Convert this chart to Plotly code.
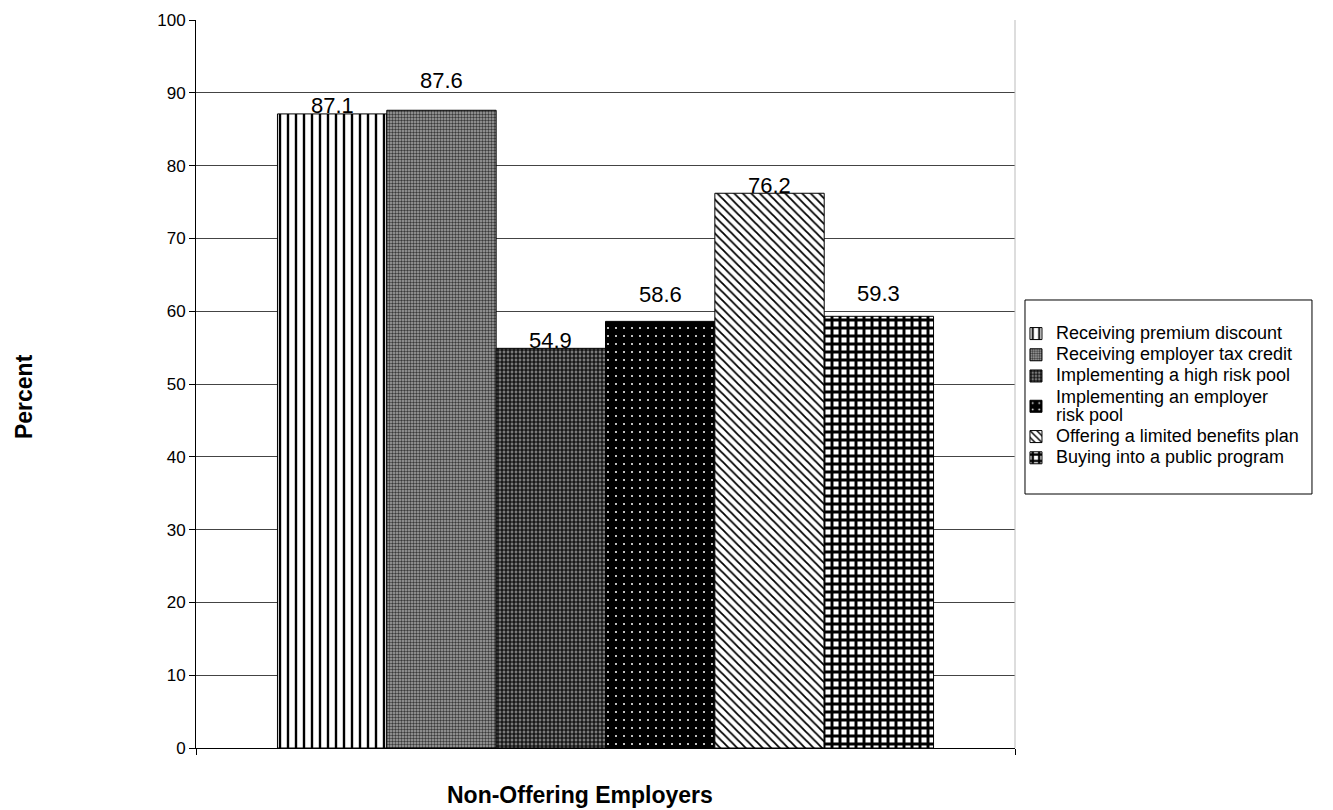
import plotly.graph_objects as go

category = "Non-Offering Employers"
series_names = [
    "Receiving premium discount",
    "Receiving employer tax credit",
    "Implementing a high risk pool",
    "Implementing an employer<br>risk pool",
    "Offering a limited benefits plan",
    "Buying into a public program",
]
values = [87.1, 87.6, 54.9, 58.6, 76.2, 59.3]
y_ticks = [0, 10, 20, 30, 40, 50, 60, 70, 80, 90, 100]

# style: label lift above bar top (px), as in the original chart
label_lift = [8, 30, 8, 27, 8, 23]

patterns = [
    dict(shape="|", fgcolor="black", bgcolor="white", size=8, solidity=0.3, fillmode="replace"),
    dict(shape=".", fgcolor="#3a3a3a", bgcolor="#a8a8a8", size=3, solidity=0.5, fillmode="replace"),
    dict(shape="+", fgcolor="black", bgcolor="#7a7a7a", size=4, solidity=0.5, fillmode="replace"),
    dict(shape=".", fgcolor="white", bgcolor="black", size=8, solidity=0.05, fillmode="replace"),
    dict(shape="\\", fgcolor="black", bgcolor="white", size=6, solidity=0.3, fillmode="replace"),
    dict(shape="+", fgcolor="black", bgcolor="white", size=8, solidity=0.6, fillmode="replace"),
]

FONT = "Arial, Liberation Sans, sans-serif"
HALF = 3.745  # half-span of x axis in bar widths

fig = go.Figure()
for i, (name, v, pat) in enumerate(zip(series_names, values, patterns)):
    fig.add_trace(go.Bar(
        x=[i], y=[v], name='<span style="font-size:18px">' + name + "</span>", width=1,
        marker=dict(color="white", pattern=pat, line=dict(color="black", width=1)),
    ))
    fig.add_annotation(x=i, y=v, xref="x", yref="y", text=f"{v:.1f}",
                       showarrow=False, yanchor="middle", yshift=label_lift[i],
                       font=dict(size=22, color="black", family=FONT))

n = len(values)
center = (n - 1) / 2

fig.update_layout(
    width=1325, height=802,
    barmode="overlay",
    plot_bgcolor="white", paper_bgcolor="white",
    font=dict(family=FONT, color="black", size=17),
    margin=dict(l=188, r=318, t=12, b=62, autoexpand=False),
    showlegend=True,
    legend=dict(
        x=1.0012, y=0.5907, xanchor="left", yanchor="top",
        borderwidth=0, bgcolor="rgba(0,0,0,0)",
        font=dict(size=14, family=FONT), tracegroupgap=0,
        itemwidth=30,
    ),
)
fig.update_yaxes(
    range=[0, 100], tickvals=y_ticks, ticks="outside", ticklen=6, tickcolor="black",
    showline=True, linecolor="black", linewidth=1,
    showgrid=True, gridcolor="#444444", gridwidth=1, zeroline=False,
    tickfont=dict(size=17, family=FONT),
    automargin=False,
)
fig.update_xaxes(
    range=[center - HALF, center + HALF],
    tickvals=[center - HALF, center + HALF], ticktext=["", ""],
    ticks="outside", ticklen=6, tickcolor="black",
    showline=True, linecolor="black", linewidth=1, showgrid=False, zeroline=False,
    automargin=False,
)
# axis titles
fig.add_annotation(x=-0.21, y=0.4821, xref="paper", yref="paper", text="<b>Percent</b>",
                   textangle=-90, showarrow=False, xanchor="center", yanchor="middle",
                   font=dict(size=23, family=FONT, color="black"))
fig.add_annotation(x=0.469, y=-0.0646, xref="paper", yref="paper", text="<b>" + category + "</b>",
                   showarrow=False, xanchor="center", yanchor="middle",
                   font=dict(size=23, family=FONT, color="black"))
# right plot border
fig.add_shape(type="line", xref="paper", yref="paper", x0=1, x1=1, y0=0, y1=1,
              line=dict(color="#bbbbbb", width=1))
# legend frame
fig.add_shape(type="rect", xref="paper", yref="paper", x0=1.0122, x1=1.3626, y0=0.3489, y1=0.6154,
              line=dict(color="black", width=1), fillcolor="rgba(0,0,0,0)", layer="below")

fig.write_html("out.html")
